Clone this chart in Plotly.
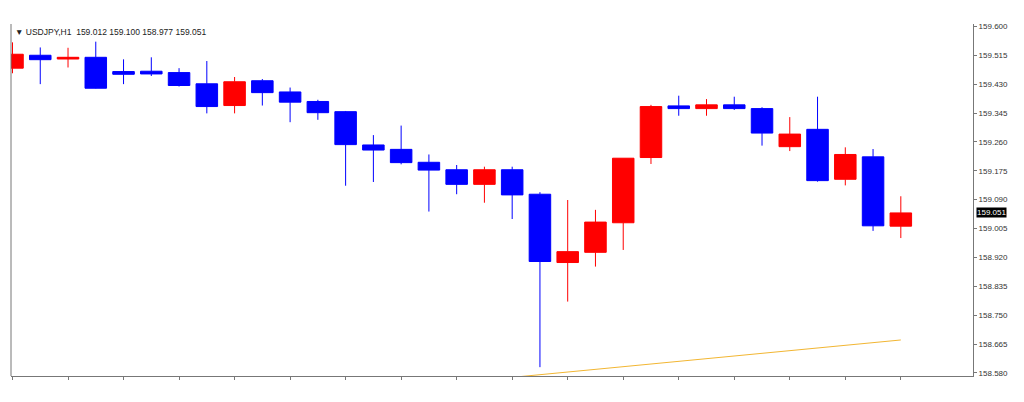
import plotly.graph_objects as go

# USDJPY H1 bars (index = bar position)
bar_idx = list(range(33))
open_ = [159.477, 159.515, 159.504, 159.509, 159.467, 159.468, 159.464, 159.431, 159.367, 159.440,
         159.407, 159.379, 159.349, 159.251, 159.238, 159.200, 159.178, 159.135, 159.178, 159.106,
         158.905, 158.935, 159.022, 159.214, 159.366, 159.358, 159.369, 159.358, 159.246, 159.297,
         159.150, 159.216, 159.012]
high = [159.553, 159.538, 159.537, 159.555, 159.503, 159.509, 159.477, 159.498, 159.451, 159.445,
        159.420, 159.384, 159.351, 159.280, 159.308, 159.223, 159.192, 159.187, 159.187, 159.112,
        159.089, 159.060, 159.212, 159.369, 159.396, 159.386, 159.393, 159.362, 159.333, 159.393,
        159.244, 159.239, 159.100]
low = [159.462, 159.430, 159.479, 159.417, 159.430, 159.454, 159.423, 159.344, 159.344, 159.367,
       159.318, 159.325, 159.131, 159.142, 159.194, 159.055, 159.106, 159.081, 159.033, 158.597,
       158.790, 158.893, 158.942, 159.195, 159.337, 159.337, 159.354, 159.249, 159.233, 159.143,
       159.132, 158.998, 158.977]
close = [159.518, 159.502, 159.509, 159.418, 159.459, 159.460, 159.426, 159.364, 159.437, 159.405,
         159.377, 159.346, 159.252, 159.236, 159.199, 159.177, 159.135, 159.178, 159.104, 158.908,
         158.937, 159.024, 159.212, 159.364, 159.358, 159.369, 159.358, 159.286, 159.283, 159.146,
         159.223, 159.013, 159.051]

# indicator line (bottom right)
ma_idx = list(range(18, 33))
ma_val = [158.567, 158.575, 158.583, 158.591, 158.599, 158.607, 158.615, 158.622,
          158.630, 158.638, 158.646, 158.654, 158.661, 158.669, 158.677]

ytick_vals = [159.600, 159.515, 159.430, 159.345, 159.260, 159.175, 159.090,
              159.005, 158.920, 158.835, 158.750, 158.665, 158.580]
xtick_vals = list(range(0, 33, 2))

fig = go.Figure()
fig.add_trace(go.Candlestick(
    x=bar_idx, open=open_, high=high, low=low, close=close,
    increasing=dict(line=dict(color="#ff0000", width=1), fillcolor="#ff0000"),
    decreasing=dict(line=dict(color="#0000ff", width=1), fillcolor="#0000ff"),
    whiskerwidth=0, showlegend=False, hoverinfo="skip",
))
fig.add_trace(go.Scatter(
    x=ma_idx, y=ma_val, mode="lines",
    line=dict(color="#f2b632", width=1), showlegend=False, hoverinfo="skip",
))

# page body has an 8px margin, so the figure is a bit smaller than the window
fig.update_layout(
    width=1008, height=386,
    margin=dict(l=3, r=43, t=16, b=18),
    paper_bgcolor="white", plot_bgcolor="white",
    boxgap=0.225, boxgroupgap=0,
    font=dict(family="Liberation Sans, DejaVu Sans, sans-serif", size=8, color="#333333"),
    xaxis=dict(
        range=[-0.054, 34.6], rangeslider=dict(visible=False),
        showgrid=False, zeroline=False, showline=True, linecolor="#777777", linewidth=1,
        tickmode="array", tickvals=xtick_vals, showticklabels=False,
        ticks="outside", ticklen=3, tickcolor="#777777",
    ),
    yaxis=dict(
        range=[158.571, 159.607], side="right",
        showgrid=False, zeroline=False, showline=True, linecolor="#777777", linewidth=1,
        tickmode="array", tickvals=ytick_vals,
        ticktext=[f"{v:.3f}" for v in ytick_vals],
        ticks="outside", ticklen=3, tickcolor="#777777",
        tickfont=dict(size=8, color="#333333"),
    ),
    shapes=[dict(type="line", xref="paper", yref="paper", x0=0, x1=0, y0=0, y1=1,
                 line=dict(color="#777777", width=1))],
    annotations=[
        dict(xref="paper", yref="paper", x=0, y=1, xanchor="left", yanchor="top",
             xshift=2, yshift=-1, showarrow=False,
             text="▼ USDJPY,H1  159.012 159.100 158.977 159.051",
             font=dict(size=8.5, color="#222222")),
        dict(xref="paper", yref="y", x=1, y=close[-1], xanchor="left", yanchor="middle",
             xshift=3, showarrow=False, text=f"{close[-1]:.3f}",
             bgcolor="black", borderpad=0, font=dict(size=8, color="white")),
    ],
)

fig.write_html("out.html")
